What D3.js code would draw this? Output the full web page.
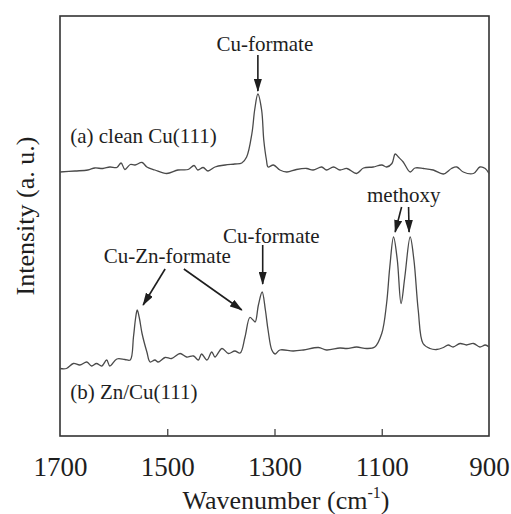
<!DOCTYPE html>
<html lang="en">
<head>
  <meta charset="UTF-8">
  <title>IRAS spectra of formate on Cu(111)</title>
  <script src="https://d3js.org/d3.v7.min.js"></script>
  <style>
    body { margin: 0; background: #fff; }
    text { font-family: "Liberation Serif", "Times New Roman", serif; fill: #1e1e1e; }
    .trace { fill: none; stroke: #4a4a4a; stroke-width: 1.3; }
    .arrow { stroke: #1e1e1e; stroke-width: 1.6; }
  </style>
</head>
<body>
<script>
  // Spectrum (a) clean Cu(111): wavenumber, intensity (a.u.)
  const waveA = [1700, 1672, 1648, 1635, 1620, 1607, 1594, 1586, 1579, 1569, 1560, 1547, 1538, 1523, 1501,
    1480, 1461, 1450, 1443, 1433, 1424, 1411, 1392, 1374, 1361, 1352, 1342, 1337, 1331, 1324, 1320, 1315,
    1312, 1302, 1290, 1277, 1259, 1240, 1228, 1212, 1203, 1190, 1178, 1165, 1147, 1134, 1116, 1100, 1091,
    1081, 1075, 1069, 1060, 1047, 1038, 1022, 1004, 985, 970, 960, 948, 929, 917, 907, 900];
  const intA = [264, 265, 266, 268, 267.5, 269, 268.5, 273, 266.5, 271.5, 271, 273.5, 269, 266, 262.5,
    266, 266.5, 270.5, 266, 268.5, 265, 269, 271, 272, 273, 279, 303, 326, 342, 326, 296, 276,
    269, 271, 266, 264, 266.5, 267.5, 266, 269, 266, 269, 266, 267.5, 262.5, 268, 269, 271, 269,
    272.5, 282, 279, 274, 264, 268, 267.5, 266, 262, 267.5, 269, 264, 262.5, 269, 267.5, 262.5];

  // Spectrum (b) Zn/Cu(111)
  const waveB = [1700, 1688, 1675, 1663, 1650, 1641, 1632, 1622, 1613, 1607, 1594, 1579, 1569, 1563, 1559,
    1556, 1552, 1547, 1538, 1532, 1523, 1517, 1504, 1492, 1476, 1464, 1451, 1442, 1436, 1426, 1417, 1411,
    1398, 1386, 1374, 1364, 1355, 1346, 1340, 1336, 1330, 1323, 1317, 1312, 1305, 1299, 1290, 1265, 1246,
    1218, 1203, 1178, 1165, 1147, 1128, 1113, 1100, 1091, 1085, 1078, 1071, 1064, 1057, 1047, 1040, 1032,
    1023, 1010, 998, 985, 976, 967, 954, 942, 929, 917, 907, 900];
  const intB = [67.5, 67.5, 72.5, 71, 74, 70, 72.5, 70, 76, 70, 77, 76.5, 76, 99, 118,
    126, 118, 102.5, 84, 74, 76, 74, 78.5, 77.5, 82.5, 79, 80, 76, 82, 76, 84, 79,
    87.5, 82.5, 85, 83, 99, 118.5, 116, 114, 131, 144, 126, 106, 86, 82, 86, 85, 86,
    88.5, 86, 88, 87.5, 89, 87.5, 89, 102.5, 132.5, 169, 199, 176, 132.5, 159, 199, 176, 126,
    92.5, 87.5, 86.5, 88.5, 91, 89, 92.5, 91, 92.5, 89, 91, 89];

  const tickValues = [1700, 1500, 1300, 1100, 900];

  // Annotations: text, wavenumber, intensity (baseline)
  const labelText = ['Cu-formate', '(a) clean Cu(111)', '(b) Zn/Cu(111)', 'Cu-Zn-formate', 'Cu-formate', 'methoxy'];
  const labelX = [1318, 1681, 1681, 1500, 1306, 1059];
  const labelY = [385, 293, 37, 173, 193, 234];
  const labelAnchor = ['middle', 'start', 'start', 'middle', 'middle', 'middle'];

  // Arrows: from (x1,y1) to tip (x2,y2)
  const arrowX1 = [1331, 1504, 1469, 1322, 1063, 1050];
  const arrowY1 = [381, 167, 167, 191, 229, 229];
  const arrowX2 = [1331, 1545, 1361, 1322, 1075, 1049];
  const arrowY2 = [345, 131, 126, 152, 204, 204];

  const W = 511, H = 514;
  const plot = {left: 60, right: 489, top: 16, bottom: 436};

  const svg = d3.select('body').append('svg')
    .attr('width', W)
    .attr('height', H);

  const x = d3.scaleLinear().domain([1700, 900]).range([plot.left, plot.right]);
  const y = d3.scaleLinear().domain([0, 420]).range([plot.bottom, plot.top]);

  svg.append('defs').append('marker')
    .attr('id', 'head')
    .attr('markerUnits', 'userSpaceOnUse')
    .attr('markerWidth', 13)
    .attr('markerHeight', 8)
    .attr('refX', 12)
    .attr('refY', 4)
    .attr('orient', 'auto')
    .append('path')
    .attr('d', 'M0,0 L13,4 L0,8 Z')
    .attr('fill', '#1e1e1e');

  // frame
  svg.append('rect')
    .attr('x', plot.left)
    .attr('y', plot.top)
    .attr('width', plot.right - plot.left)
    .attr('height', plot.bottom - plot.top)
    .attr('fill', 'none')
    .attr('stroke', '#333')
    .attr('stroke-width', 1.6);

  // bottom axis, ticks inside
  const xAxis = d3.axisBottom(x)
    .tickValues(tickValues)
    .tickSizeInner(-7)
    .tickSizeOuter(0)
    .tickPadding(21)
    .tickFormat(d3.format('d'));

  const gx = svg.append('g')
    .attr('transform', `translate(0,${plot.bottom})`)
    .call(xAxis);
  gx.select('.domain').remove();
  gx.selectAll('.tick line')
    .attr('stroke', '#444')
    .attr('stroke-width', 1.3)
    .attr('opacity', d => (d === 1700 || d === 900) ? 0 : 1);
  gx.selectAll('.tick text')
    .attr('font-family', '"Liberation Serif", serif')
    .attr('font-size', 27)
    .attr('fill', '#1e1e1e');

  // axis titles
  const xt = svg.append('text')
    .attr('x', 286)
    .attr('y', 509)
    .attr('text-anchor', 'middle')
    .attr('font-size', 26);
  xt.append('tspan').text('Wavenumber (cm');
  xt.append('tspan').attr('font-size', 16).attr('dy', -11).text('-1');
  xt.append('tspan').attr('dy', 11).text(')');

  svg.append('text')
    .attr('transform', 'translate(34,216) rotate(-90)')
    .attr('text-anchor', 'middle')
    .attr('font-size', 26)
    .text('Intensity (a. u.)');

  // spectra
  const line = d3.line()
    .x(d => x(d[0]))
    .y(d => y(d[1]))
    .curve(d3.curveCatmullRom.alpha(0.5));

  svg.append('path')
    .attr('class', 'trace')
    .attr('d', line(d3.zip(waveA, intA)));

  svg.append('path')
    .attr('class', 'trace')
    .attr('d', line(d3.zip(waveB, intB)));

  // labels
  svg.selectAll('text.label')
    .data(labelText)
    .join('text')
    .attr('class', 'label')
    .attr('x', (d, i) => x(labelX[i]))
    .attr('y', (d, i) => y(labelY[i]))
    .attr('text-anchor', (d, i) => labelAnchor[i])
    .attr('font-size', 21)
    .text(d => d);

  // arrows
  svg.selectAll('line.arrow')
    .data(arrowX1)
    .join('line')
    .attr('class', 'arrow')
    .attr('x1', (d, i) => x(arrowX1[i]))
    .attr('y1', (d, i) => y(arrowY1[i]))
    .attr('x2', (d, i) => x(arrowX2[i]))
    .attr('y2', (d, i) => y(arrowY2[i]))
    .attr('marker-end', 'url(#head)');
</script>
</body>
</html>
